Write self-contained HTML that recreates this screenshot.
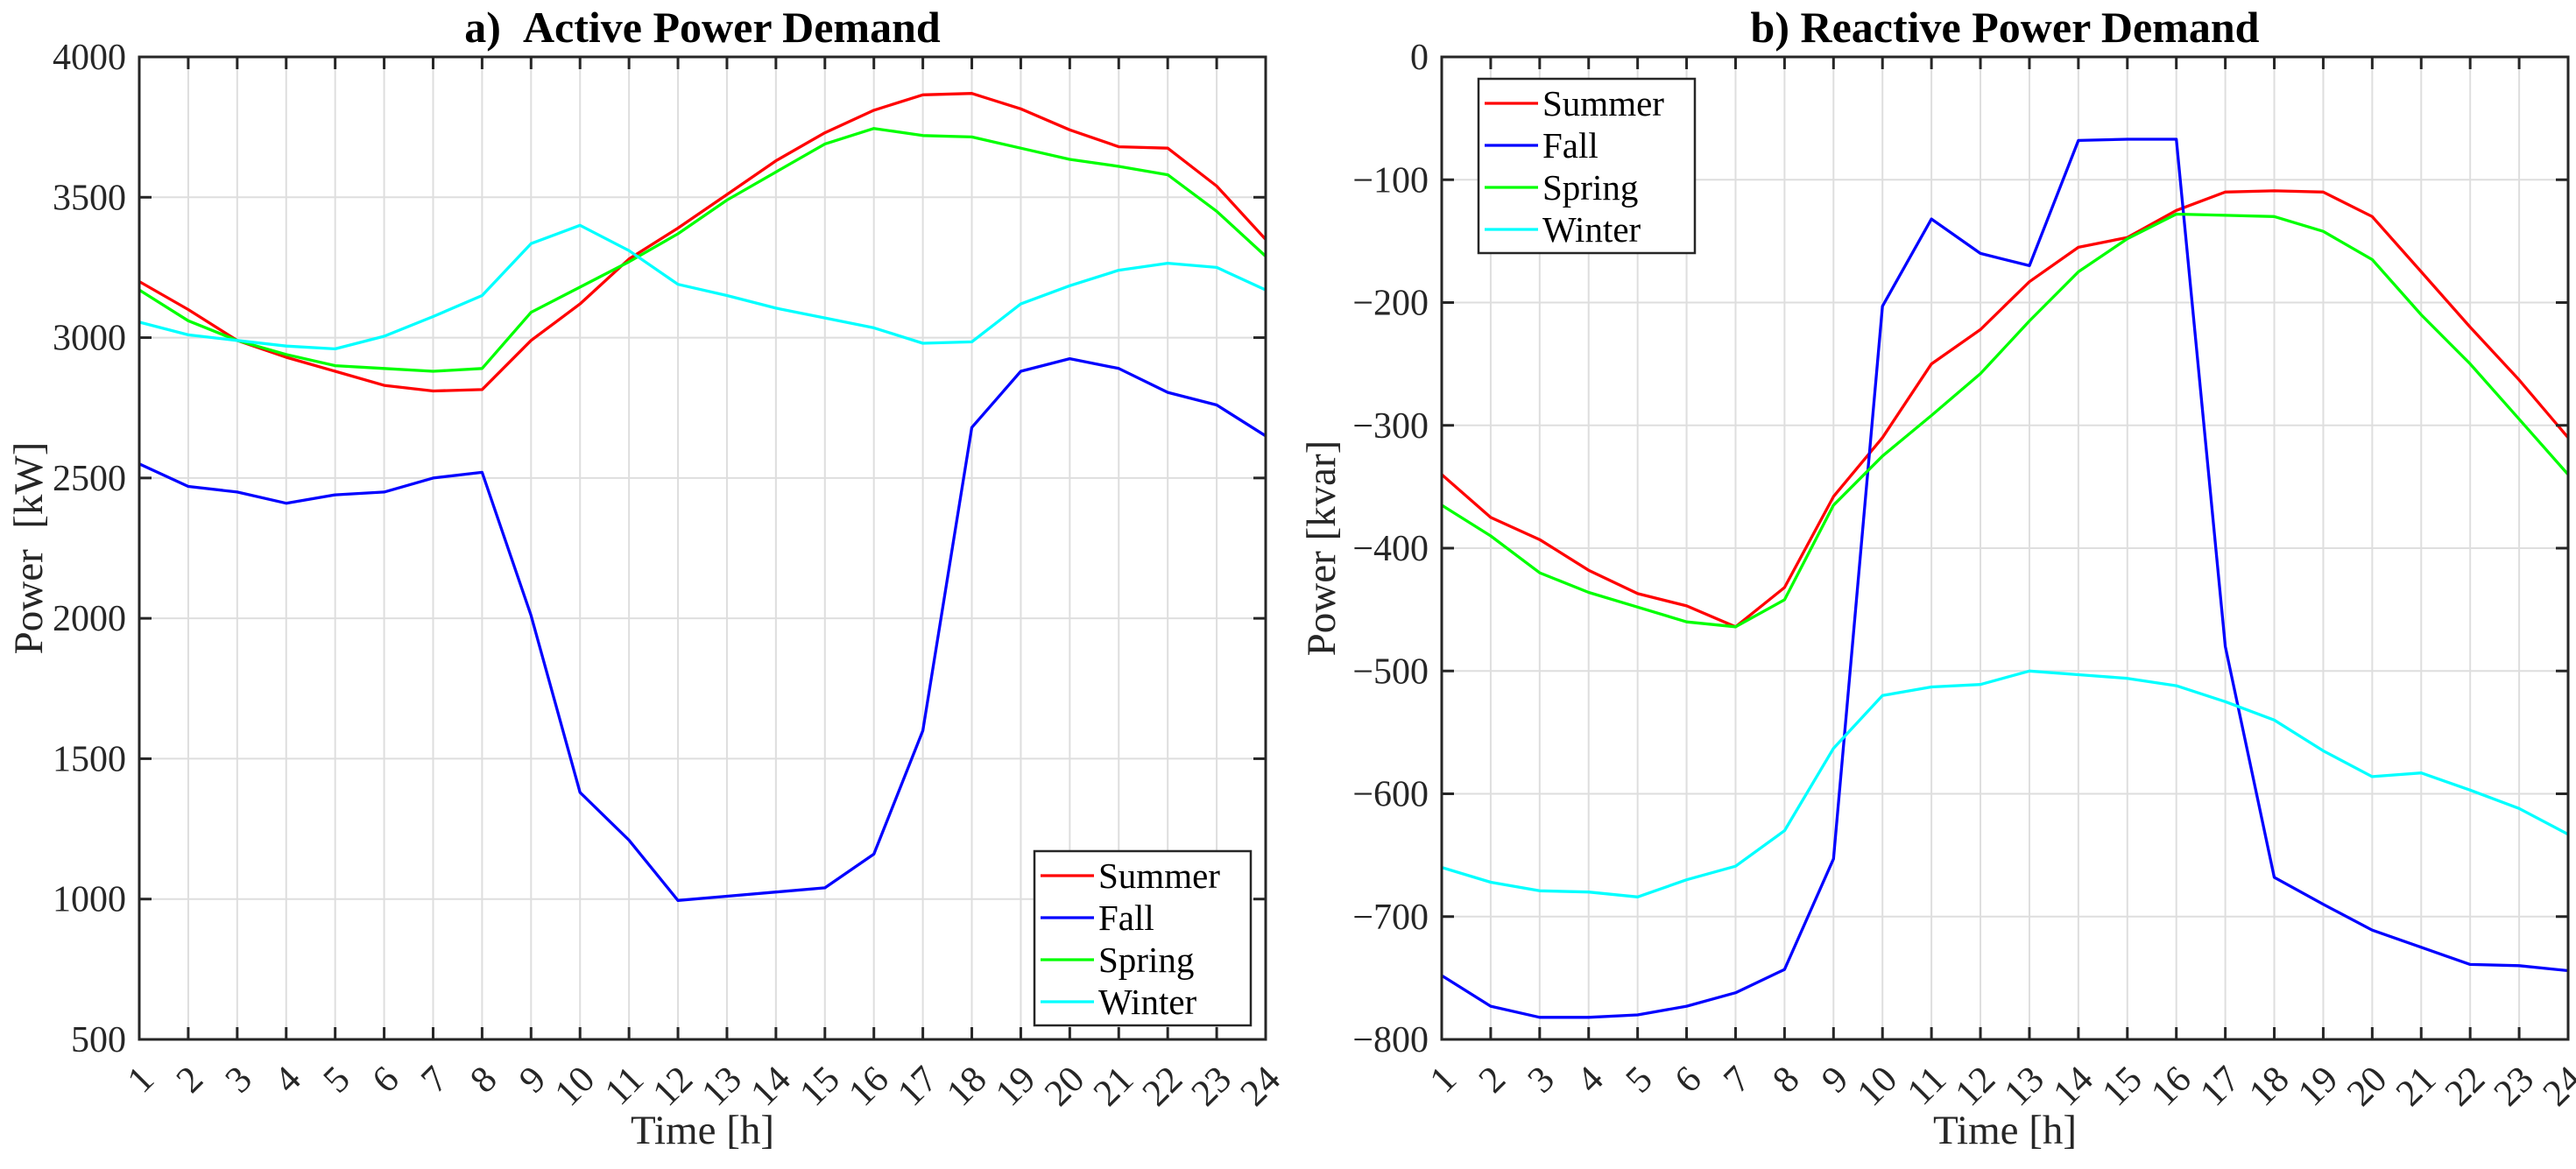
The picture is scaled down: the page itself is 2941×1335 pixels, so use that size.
<!DOCTYPE html>
<html><head><meta charset="utf-8"><style>
html,body{margin:0;padding:0;background:#fff}
svg{display:block;font-family:"Liberation Serif",serif}
</style></head><body>
<svg id="c" width="2941" height="1335" viewBox="0 0 2941 1335"></svg>
<script>
const hours=[1,2,3,4,5,6,7,8,9,10,11,12,13,14,15,16,17,18,19,20,21,22,23,24];
const seriesNames=["Summer","Fall","Spring","Winter"];
const seriesColors=["#ff0000","#0000ff","#00ff00","#00ffff"];
const activeSummer=[3200,3100,2990,2930,2880,2830,2810,2815,2990,3120,3280,3390,3510,3630,3730,3810,3865,3870,3815,3740,3680,3675,3540,3350];
const activeFall=[2550,2470,2450,2410,2440,2450,2500,2520,2010,1380,1210,995,1010,1025,1040,1160,1600,2680,2880,2925,2890,2805,2760,2650];
const activeSpring=[3170,3060,2990,2940,2900,2890,2880,2890,3090,3180,3270,3370,3490,3590,3690,3745,3720,3715,3675,3635,3610,3580,3450,3290];
const activeWinter=[3055,3010,2990,2970,2960,3005,3075,3150,3335,3400,3310,3190,3150,3105,3070,3035,2980,2985,3120,3185,3240,3265,3250,3170];
const reactSummer=[-340,-375,-393,-418,-437,-447,-464,-432,-358,-310,-250,-222,-183,-155,-147,-125,-110,-109,-110,-130,-175,-220,-263,-310];
const reactFall=[-748,-773,-782,-782,-780,-773,-762,-743,-653,-203,-132,-160,-170,-68,-67,-67,-480,-668,-690,-711,-725,-739,-740,-744];
const reactSpring=[-365,-390,-420,-436,-448,-460,-464,-442,-365,-325,-292,-258,-215,-175,-148,-128,-129,-130,-142,-165,-210,-250,-295,-340];
const reactWinter=[-660,-672,-679,-680,-684,-670,-659,-630,-563,-520,-513,-511,-500,-503,-506,-512,-525,-540,-565,-586,-583,-597,-612,-633];
const activeTicks=[500,1000,1500,2000,2500,3000,3500,4000];
const reactTicks=[-800,-700,-600,-500,-400,-300,-200,-100,0];

const NS="http://www.w3.org/2000/svg";
const svg=document.getElementById('c');
function mk(tag,attrs,parent,txt){const e=document.createElementNS(NS,tag);for(const k in attrs)e.setAttribute(k,attrs[k]);if(txt!==undefined)e.textContent=txt;(parent||svg).appendChild(e);return e;}

function panel(cfg){
  const g=mk('g',{});
  
  
  const L=cfg.x0,R=cfg.x1,T=65,B=1187;
  const xs=h=>L+(h-1)/23*(R-L);
  const ys=v=>B-(v-cfg.ymin)/(cfg.ymax-cfg.ymin)*(B-T);
  hours.forEach(h=>{const l=mk('line',{x1:xs(h),x2:xs(h),y1:T,y2:B,stroke:'#dedede','stroke-width':2},g);
    });
  cfg.ticks.forEach(v=>{const l=mk('line',{x1:L,x2:R,y1:ys(v),y2:ys(v),stroke:'#dedede','stroke-width':2},g);
    });
  cfg.data.forEach((arr,i)=>{
    const pts=arr.map((v,j)=>xs(hours[j]).toFixed(1)+','+ys(v).toFixed(1)).join(' ');
    const p=mk('polyline',{points:pts,fill:'none',stroke:seriesColors[i],'stroke-width':3.3,'stroke-linejoin':'round'},g);
    
    
  });
  const box=mk('rect',{x:L,y:T,width:R-L,height:B-T,fill:'none',stroke:'#262626','stroke-width':3},g);
  
  hours.forEach(h=>{
    mk('line',{x1:xs(h),x2:xs(h),y1:B,y2:B-14,stroke:'#262626','stroke-width':3},g);
    mk('line',{x1:xs(h),x2:xs(h),y1:T,y2:T+14,stroke:'#262626','stroke-width':3},g);
    const t=mk('text',{x:0,y:0,'text-anchor':'end','font-size':43,fill:'#262626',transform:`translate(${xs(h)+19},${1235}) rotate(-45)`},g,String(h));
    
  });
  cfg.ticks.forEach(v=>{
    mk('line',{x1:L,x2:L+14,y1:ys(v),y2:ys(v),stroke:'#262626','stroke-width':3},g);
    mk('line',{x1:R,x2:R-14,y1:ys(v),y2:ys(v),stroke:'#262626','stroke-width':3},g);
    const t=mk('text',{x:L-15,y:ys(v)+14,'text-anchor':'end','font-size':42,fill:'#262626'},g,v<0?'\u2212'+Math.abs(v):String(v));
    
  });
  const xt=mk('text',{x:(L+R)/2,y:1306,'text-anchor':'middle','font-size':47,fill:'#262626'},g,'Time [h]');
  
  const yt=mk('text',{x:0,y:0,'text-anchor':'middle','font-size':47,fill:'#262626',transform:`translate(${cfg.ylabX},626) rotate(-90)`},g,cfg.ylabel);
  
  const tt=mk('text',{x:(L+R)/2,y:48,'text-anchor':'middle','font-size':50,'font-weight':'bold',fill:'#000'},g,cfg.title);
  
  const lg=mk('g',{},g);
  
  mk('rect',{x:cfg.lx,y:cfg.ly,width:247,height:199,fill:'#fff',stroke:'#262626','stroke-width':2.5},lg);
  seriesNames.forEach((n,i)=>{
    const cy=cfg.ly+28+i*48;
    const e=mk('g',{},lg);
    
    mk('line',{x1:cfg.lx+7,x2:cfg.lx+68,y1:cy,y2:cy,stroke:seriesColors[i],'stroke-width':3.3},e);
    mk('text',{x:cfg.lx+73,y:cy+14,'font-size':41,fill:'#000'},e,n);
  });
}
panel({name:'active-power-chart',x0:159,x1:1445,ymin:500,ymax:4000,ticks:activeTicks,data:[activeSummer,activeFall,activeSpring,activeWinter],ylabel:'Power\u00a0\u00a0[kW]',ylabX:48,title:'a)\u00a0\u00a0Active Power Demand',lx:1181,ly:972});
panel({name:'reactive-power-chart',x0:1646,x1:2932,ymin:-800,ymax:0,ticks:reactTicks,data:[reactSummer,reactFall,reactSpring,reactWinter],ylabel:'Power [kvar]',ylabX:1524,title:'b) Reactive Power Demand',lx:1688,ly:90});
</script>
</body></html>
